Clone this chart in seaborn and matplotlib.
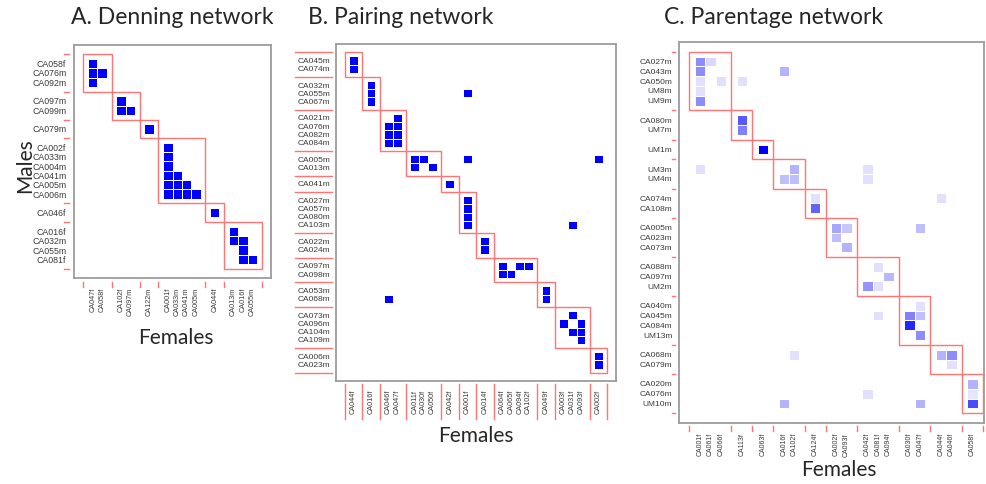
import numpy as np
import matplotlib
matplotlib.use("Agg")
import matplotlib.pyplot as plt
from matplotlib.colors import LinearSegmentedColormap
from matplotlib.patches import Rectangle
import seaborn as sns


# A. Denning network
den_rows = ['CA058f', 'CA076m', 'CA092m', 'CA097m', 'CA099m', 'CA079m',
            'CA002f', 'CA033m', 'CA004m', 'CA041m', 'CA005m', 'CA006m',
            'CA046f', 'CA016f', 'CA032m', 'CA055m', 'CA081f']
den_row_groups = [3, 2, 1, 6, 1, 4]
den_cols = ['CA047f', 'CA058f', 'CA102f', 'CA097m', 'CA122m', 'CA001f',
            'CA033m', 'CA041m', 'CA005m', 'CA044f', 'CA013m', 'CA016f', 'CA055m']
den_col_groups = [2, 2, 1, 4, 1, 3]
den_links = [
    ('CA058f', 'CA047f'), ('CA076m', 'CA047f'), ('CA076m', 'CA058f'), ('CA092m', 'CA047f'),
    ('CA097m', 'CA102f'), ('CA099m', 'CA102f'), ('CA099m', 'CA097m'),
    ('CA079m', 'CA122m'),
    ('CA002f', 'CA001f'), ('CA033m', 'CA001f'), ('CA004m', 'CA001f'),
    ('CA041m', 'CA001f'), ('CA041m', 'CA033m'),
    ('CA005m', 'CA001f'), ('CA005m', 'CA033m'), ('CA005m', 'CA041m'),
    ('CA006m', 'CA001f'), ('CA006m', 'CA033m'), ('CA006m', 'CA041m'), ('CA006m', 'CA005m'),
    ('CA046f', 'CA044f'),
    ('CA016f', 'CA013m'), ('CA032m', 'CA013m'), ('CA032m', 'CA016f'),
    ('CA055m', 'CA016f'), ('CA081f', 'CA016f'), ('CA081f', 'CA055m'),
]

# B. Pairing network
pair_rows = ['CA045m', 'CA074m', 'CA032m', 'CA055m', 'CA067m', 'CA021m', 'CA076m',
             'CA082m', 'CA084m', 'CA005m', 'CA013m', 'CA041m', 'CA027m', 'CA057m',
             'CA080m', 'CA103m', 'CA022m', 'CA024m', 'CA097m', 'CA098m', 'CA053m',
             'CA068m', 'CA073m', 'CA096m', 'CA104m', 'CA109m', 'CA006m', 'CA023m']
pair_row_groups = [2, 3, 4, 2, 1, 4, 2, 2, 2, 4, 2]
pair_cols = ['CA044f', 'CA016f', 'CA046f', 'CA047f', 'CA011f', 'CA030f', 'CA050f',
             'CA042f', 'CA001f', 'CA014f', 'CA064f', 'CA065f', 'CA094f', 'CA102f',
             'CA049f', 'CA003f', 'CA031f', 'CA093f', 'CA002f']
pair_col_groups = [1, 1, 2, 3, 1, 1, 1, 4, 1, 3, 1]
pair_links = [
    ('CA045m', 'CA044f'), ('CA074m', 'CA044f'),
    ('CA032m', 'CA016f'), ('CA055m', 'CA016f'), ('CA055m', 'CA001f'), ('CA067m', 'CA016f'),
    ('CA021m', 'CA047f'), ('CA076m', 'CA046f'), ('CA076m', 'CA047f'),
    ('CA082m', 'CA046f'), ('CA082m', 'CA047f'), ('CA084m', 'CA046f'), ('CA084m', 'CA047f'),
    ('CA005m', 'CA011f'), ('CA005m', 'CA030f'), ('CA005m', 'CA001f'), ('CA005m', 'CA002f'),
    ('CA013m', 'CA011f'), ('CA013m', 'CA050f'),
    ('CA041m', 'CA042f'),
    ('CA027m', 'CA001f'), ('CA057m', 'CA001f'), ('CA080m', 'CA001f'),
    ('CA103m', 'CA001f'), ('CA103m', 'CA031f'),
    ('CA022m', 'CA014f'), ('CA024m', 'CA014f'),
    ('CA097m', 'CA064f'), ('CA097m', 'CA094f'), ('CA097m', 'CA102f'),
    ('CA098m', 'CA064f'), ('CA098m', 'CA065f'),
    ('CA053m', 'CA049f'), ('CA068m', 'CA049f'), ('CA068m', 'CA046f'),
    ('CA073m', 'CA031f'), ('CA096m', 'CA003f'), ('CA096m', 'CA093f'),
    ('CA104m', 'CA031f'), ('CA104m', 'CA093f'), ('CA109m', 'CA093f'),
    ('CA006m', 'CA002f'), ('CA023m', 'CA002f'),
]

# C. Parentage network (shade = strength)
par_rows = ['CA027m', 'CA043m', 'CA050m', 'UM8m', 'UM9m', 'CA080m', 'UM7m', 'UM1m',
            'UM3m', 'UM4m', 'CA074m', 'CA108m', 'CA005m', 'CA023m', 'CA073m',
            'CA088m', 'CA097m', 'UM2m', 'CA040m', 'CA045m', 'CA084m', 'UM13m',
            'CA068m', 'CA079m', 'CA020m', 'CA076m', 'UM10m']
par_row_groups = [5, 2, 1, 2, 2, 3, 3, 4, 2, 3]
par_cols = ['CA001f', 'CA061f', 'CA066f', 'CA113f', 'CA063f', 'CA016f', 'CA102f',
            'CA124f', 'CA002f', 'CA093f', 'CA042f', 'CA081f', 'CA094f', 'CA030f',
            'CA047f', 'CA044f', 'CA046f', 'CA058f']
par_col_groups = [3, 1, 1, 2, 1, 2, 3, 2, 2, 1]
par_links = [
    ('CA027m', 'CA001f', 0.45), ('CA027m', 'CA061f', 0.15),
    ('CA043m', 'CA001f', 0.45), ('CA043m', 'CA016f', 0.3),
    ('CA050m', 'CA001f', 0.12), ('CA050m', 'CA066f', 0.12), ('CA050m', 'CA113f', 0.12),
    ('UM8m', 'CA001f', 0.12), ('UM9m', 'CA001f', 0.45),
    ('CA080m', 'CA113f', 0.65), ('UM7m', 'CA113f', 0.5),
    ('UM1m', 'CA063f', 1.0),
    ('UM3m', 'CA001f', 0.12), ('UM3m', 'CA102f', 0.3), ('UM3m', 'CA042f', 0.12),
    ('UM4m', 'CA016f', 0.25), ('UM4m', 'CA102f', 0.25), ('UM4m', 'CA042f', 0.12),
    ('CA074m', 'CA124f', 0.12), ('CA074m', 'CA044f', 0.12), ('CA108m', 'CA124f', 0.62),
    ('CA005m', 'CA002f', 0.35), ('CA005m', 'CA093f', 0.22), ('CA005m', 'CA047f', 0.25),
    ('CA023m', 'CA002f', 0.25), ('CA073m', 'CA093f', 0.3),
    ('CA088m', 'CA081f', 0.12), ('CA097m', 'CA094f', 0.28),
    ('UM2m', 'CA042f', 0.42), ('UM2m', 'CA081f', 0.12),
    ('CA040m', 'CA047f', 0.12),
    ('CA045m', 'CA081f', 0.12), ('CA045m', 'CA030f', 0.5), ('CA045m', 'CA047f', 0.25),
    ('CA084m', 'CA030f', 0.85), ('UM13m', 'CA047f', 0.45),
    ('CA068m', 'CA102f', 0.12), ('CA068m', 'CA044f', 0.3), ('CA068m', 'CA046f', 0.45),
    ('CA079m', 'CA046f', 0.12),
    ('CA020m', 'CA058f', 0.3),
    ('CA076m', 'CA042f', 0.12), ('CA076m', 'CA058f', 0.1),
    ('UM10m', 'CA016f', 0.3), ('UM10m', 'CA047f', 0.3), ('UM10m', 'CA058f', 0.7),
]


RED = '#ff7474'
GREY = '#9c9c9c'
LABEL = '#3a3a3a'
blues = LinearSegmentedColormap.from_list('wb', ['#ffffff', '#0000ff'])


def slots(sizes):
    # one blank slot before, between and after the groups
    pos, starts, k = [], [], 0
    for g, n in enumerate(sizes):
        starts.append(k + g + 1)
        pos += [k + g + 1 + i for i in range(n)]
        k += n
    return pos, starts, k + len(sizes) + 1


def draw_panel(ax, rows, row_groups, cols, col_groups, links,
               ylab_size, xlab_size, ytick_span, xtick_span, ypad, xpad, right=1.0):
    rpos, rstart, nr = slots(row_groups)
    cpos, cstart, nc = slots(col_groups)
    grid = np.full((nr, nc), np.nan)
    for link in links:
        v = link[2] if len(link) > 2 else 1.0
        grid[rpos[rows.index(link[0])], cpos[cols.index(link[1])]] = v

    sns.heatmap(grid, mask=np.isnan(grid), cmap=blues, vmin=0, vmax=1, cbar=False,
                linewidths=0.6, linecolor='white', ax=ax)

    for g in range(len(row_groups)):
        ax.add_patch(Rectangle((cstart[g] - 0.5, rstart[g] - 0.5), col_groups[g] + 1,
                               row_groups[g] + 1, fill=False, ec=RED, lw=1.0, zorder=4))

    ax.set_xlim(-0.5, nc - 0.5 + right)
    ax.set_ylim(nr + 0.5, -0.5)

    ax.set_xticks([p + 0.5 for p in cpos])
    ax.set_xticklabels(cols, rotation=90, fontsize=xlab_size, color=LABEL,
                       family='Liberation Sans')
    ax.set_yticks([p + 0.5 for p in rpos])
    ax.set_yticklabels(rows, rotation=0, fontsize=ylab_size, color=LABEL,
                       family='Liberation Sans')
    ax.tick_params(axis='x', length=0, pad=xpad)
    ax.tick_params(axis='y', length=0, pad=ypad)

    for s in ax.spines.values():
        s.set_visible(True)
        s.set_color(GREY)
        s.set_linewidth(1.3)

    # red group markers outside the frame
    ybounds = [s - 0.5 for s in rstart] + [rstart[-1] + row_groups[-1] + 0.5]
    xbounds = [s - 0.5 for s in cstart] + [cstart[-1] + col_groups[-1] + 0.5]
    for b in ybounds:
        ax.plot(ytick_span, [b, b], transform=ax.get_yaxis_transform(),
                color=RED, lw=1.0, clip_on=False)
    for b in xbounds:
        ax.plot([b, b], xtick_span, transform=ax.get_xaxis_transform(),
                color=RED, lw=1.0, clip_on=False)


W, H = 986, 485
fig = plt.figure(figsize=(W / 100, H / 100), dpi=100)


def add_axes(left, top, right, bottom):
    return fig.add_axes([left / W, 1 - bottom / H, (right - left) / W, (bottom - top) / H])


axA = add_axes(74, 46, 271, 279)
axB = add_axes(336, 45, 616, 382)
axC = add_axes(679, 43, 984, 424)

draw_panel(axA, den_rows, den_row_groups, den_cols, den_col_groups, den_links,
           ylab_size=6.3, xlab_size=5.2,
           ytick_span=[-10 / 197, -5 / 197], xtick_span=[-4 / 233, -9 / 233],
           ypad=5.5, xpad=6.5)
draw_panel(axB, pair_rows, pair_row_groups, pair_cols, pair_col_groups, pair_links,
           ylab_size=6.0, xlab_size=5.2,
           ytick_span=[-41 / 280, -4 / 280], xtick_span=[-3 / 337, -38 / 337],
           ypad=4.3, xpad=5.8)
draw_panel(axC, par_rows, par_row_groups, par_cols, par_col_groups, par_links,
           ylab_size=6.0, xlab_size=5.0,
           ytick_span=[-7 / 305, -4 / 305], xtick_span=[-3 / 381, -8 / 381],
           ypad=4.8, xpad=6.5, right=0.12)

title_kw = dict(family='Lato', fontsize=16.5, color='#262626', ha='center', va='center')
fig.text(172 / W, 1 - 18 / H, 'A. Denning network', **title_kw)
fig.text(401 / W, 1 - 18 / H, 'B. Pairing network', **title_kw)
fig.text(774 / W, 1 - 18 / H, 'C. Parentage network', **title_kw)

lab_kw = dict(family='Lato', fontsize=15, color='#262626', ha='center', va='center')
fig.text(25 / W, 1 - 166 / H, 'Males', rotation=90, **lab_kw)
fig.text(176 / W, 1 - 338 / H, 'Females', **lab_kw)
fig.text(476 / W, 1 - 436 / H, 'Females', **lab_kw)
fig.text(839 / W, 1 - 470 / H, 'Females', **lab_kw)

fig.savefig('out.png', dpi=100, facecolor='white')
